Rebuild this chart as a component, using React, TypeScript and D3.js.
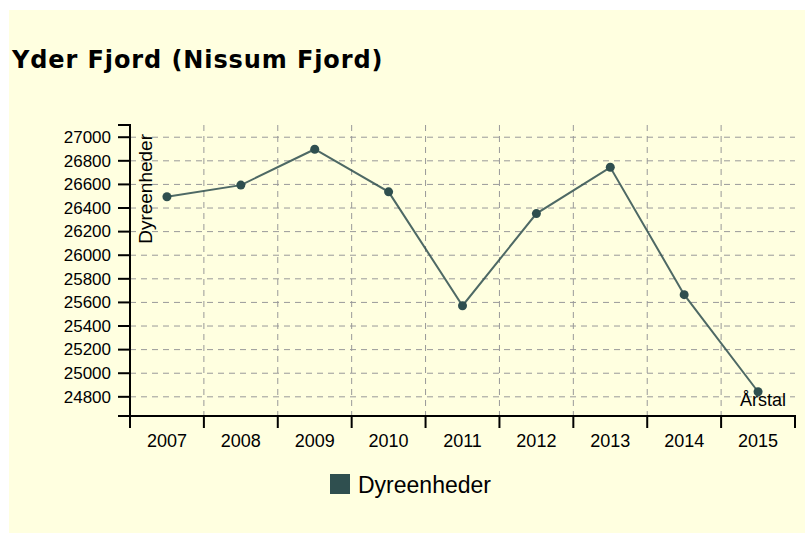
import React from "react";
import * as d3 from "d3";

const years = ["2007", "2008", "2009", "2010", "2011", "2012", "2013", "2014", "2015"];
const dyreenheder = [26495, 26594, 26898, 26537, 25572, 26353, 26745, 25666, 24843];

const title = "Yder Fjord (Nissum Fjord)";
const yLabel = "Dyreenheder";
const xLabel = "Årstal";
const legendLabel = "Dyreenheder";

const color = "#2F4F4F";
const font = "'Liberation Sans', Arial, sans-serif";

const App = () => {
  const left = 130, right = 795, top = 125, bottom = 416;

  const x = d3.scaleBand<string>().domain(years).range([left, right]).padding(0);

  const lo = d3.min(dyreenheder) as number;
  const hi = d3.max(dyreenheder) as number;
  const pad = (hi - lo) * 0.1;
  const y = d3.scaleLinear().domain([lo - pad, hi + pad]).range([bottom, top]);
  const yTicks = y.ticks(10);

  const cx = (i: number) => (x(years[i]) as number) + x.bandwidth() / 2;

  const line = d3.line<number>()
    .x((d, i) => cx(i))
    .y(d => y(d));

  // band edges, where the x ticks and vertical grid lines go
  const bounds = years.map(yr => x(yr) as number).concat([right]);

  return (
    <svg width={805} height={535} style={{ position: "absolute", left: 0, top: 0, display: "block" }}>
      <rect x={9} y={10} width={796} height={523} fill="#FFFFE0" />
      <text x={12} y={68} fontFamily="'DejaVu Sans', Verdana, sans-serif" fontWeight="bold" fontSize={24}
        letterSpacing={0.9} fill="#000">
        {title}
      </text>

      {/* grid */}
      <g stroke="#999" strokeDasharray="6,5" strokeWidth={1}>
        {yTicks.map(t => (
          <line key={"h" + t} x1={left} x2={right} y1={y(t)} y2={y(t)} />
        ))}
        {bounds.slice(1, -1).map((b, i) => (
          <line key={"v" + i} x1={b} x2={b} y1={top} y2={bottom} />
        ))}
      </g>

      {/* y axis */}
      <g stroke="#000" strokeWidth={2} fill="none">
        <path d={`M${left - 12},${top}H${left}V${bottom}H${left - 12}`} />
        {yTicks.map(t => (
          <line key={"yt" + t} x1={left - 12} x2={left} y1={y(t)} y2={y(t)} />
        ))}
      </g>
      <g fontFamily={font} fontSize={17} fill="#000" textAnchor="end">
        {yTicks.map(t => (
          <text key={"yl" + t} x={111} y={y(t)} dy="0.34em">{t}</text>
        ))}
      </g>
      <text transform={`translate(${left + 8},${top + 9}) rotate(-90)`} dy="0.71em" textAnchor="end"
        fontFamily={font} fontSize={19} fill="#000">{yLabel}</text>

      {/* x axis */}
      <g stroke="#000" strokeWidth={2} fill="none">
        <path d={`M${left},${bottom + 12}V${bottom}H${right}V${bottom + 12}`} />
        {bounds.map((b, i) => (
          <line key={"xt" + i} x1={b} x2={b} y1={bottom} y2={bottom + 12} />
        ))}
      </g>
      <g fontFamily={font} fontSize={18} fill="#000" textAnchor="middle">
        {years.map((yr, i) => (
          <text key={"xl" + yr} x={cx(i)} y={447}>{yr}</text>
        ))}
      </g>
      <text x={786} y={406} textAnchor="end" fontFamily={font} fontSize={18} fill="#000">{xLabel}</text>

      {/* series */}
      <path d={line(dyreenheder) || ""} fill="none" stroke={color} strokeWidth={2} opacity={0.85} />
      {dyreenheder.map((v, i) => (
        <circle key={"p" + i} cx={cx(i)} cy={y(v)} r={4.5} fill={color} />
      ))}

      {/* legend */}
      <rect x={330} y={474} width={20} height={20} fill={color} />
      <text x={358} y={493} fontFamily={font} fontSize={23} fill="#000">{legendLabel}</text>
    </svg>
  );
};

export default App;
